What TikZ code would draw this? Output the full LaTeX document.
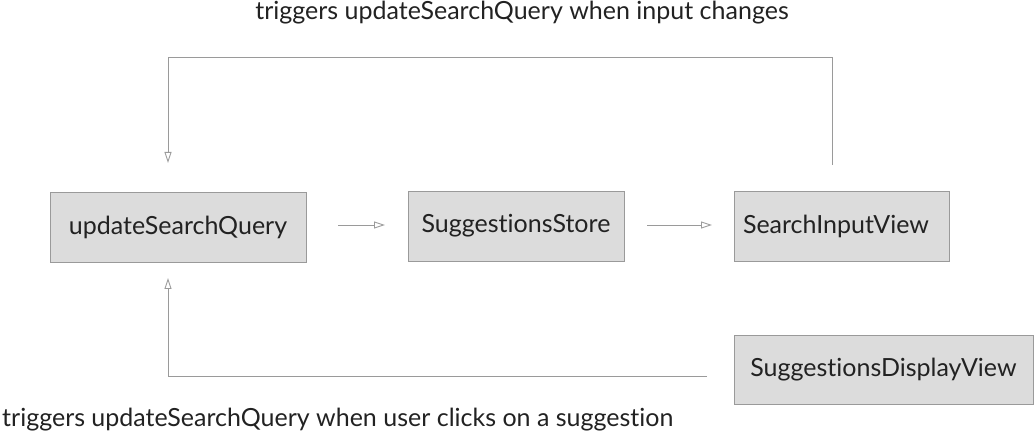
\documentclass[tikz,border=0pt]{standalone}
\usepackage{fontspec}
\setmainfont[Ligatures={NoCommon}]{Lato}
\usetikzlibrary{arrows.meta}
\definecolor{boxfill}{HTML}{DCDCDC}
\definecolor{boxline}{HTML}{9A9A9A}
\definecolor{wire}{HTML}{9A9A9A}
\definecolor{txt}{HTML}{222222}
\begin{document}
\begin{tikzpicture}[x=1pt,y=-1pt,
  box/.style={draw=boxline,fill=boxfill,line width=0.9pt,inner sep=0pt,font=\fontsize{25}{30}\selectfont,text=txt},
  wireline/.style={draw=wire,line width=0.9pt,-{Triangle[open,length=11pt,width=7pt]}},
  lbl/.style={font=\fontsize{25}{30}\selectfont,text=txt,inner sep=0pt}]
\useasboundingbox (0,0) rectangle (1035,435);
\node[box,minimum width=256pt,minimum height=70pt] (usq) at (178,227) {updateSearchQuery};
\node[box,minimum width=216pt,minimum height=70pt] (ss) at (516,226) {SuggestionsStore};
\node[box,minimum width=215pt,minimum height=70pt,text width=197pt,align=left] (siv) at (841.5,226) {SearchInputView};
\node[box,minimum width=299pt,minimum height=69pt] (sdv) at (883.5,369.5) {SuggestionsDisplayView};
\coordinate (a1s) at (338,225);
\coordinate (a1e) at (385,225);
\coordinate (a2s) at (647,225);
\coordinate (a2e) at (712,225);
\draw[wireline] (a1s) -- (a1e);
\draw[wireline] (a2s) -- (a2e);
\coordinate (ts) at (832,165);
\coordinate (te) at (168,163);
\draw[wireline] (ts) -- (832,57) -- (168,57) -- (te);
\coordinate (bs) at (707,376);
\coordinate (be) at (168,278);
\draw[wireline] (bs) -- (168,376) -- (be);
\node[lbl] (tl) at (522,13) {triggers updateSearchQuery when input changes};
\node[lbl,anchor=west] (bl) at (2,420) {triggers updateSearchQuery when user clicks on a suggestion};
\end{tikzpicture}
\end{document}
